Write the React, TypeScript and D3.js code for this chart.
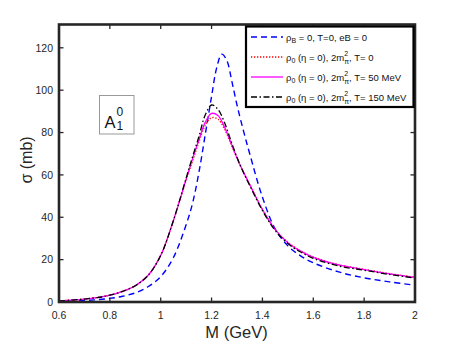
import { useRef, useEffect } from 'react';
import * as d3 from 'd3';

// mass grid (GeV) for the curves at finite density
const massGrid = [0.6, 0.65, 0.7, 0.75, 0.8, 0.85, 0.9, 0.95, 1.0, 1.05, 1.1, 1.125, 1.15, 1.175, 1.2, 1.225, 1.25, 1.275, 1.3, 1.325, 1.35, 1.4, 1.45, 1.5, 1.55, 1.6, 1.7, 1.8, 1.9, 2.0];
const sigmaT0 = [0.5, 0.9, 1.4, 2.1, 3.2, 5, 7.7, 12.5, 22, 38.5, 57.5, 66.5, 75.5, 83.3, 87, 86.3, 81.8, 75, 67.8, 61.3, 55.5, 43.8, 34.4, 28.2, 24.2, 21.3, 17.6, 15.4, 13.4, 11.7];
const sigmaT50 = [0.5, 0.9, 1.4, 2.1, 3.2, 5, 7.7, 12.5, 22, 38.5, 58, 67.5, 76.5, 84.8, 89, 88, 82.8, 75.5, 68, 61.5, 55.5, 43.6, 34.2, 28, 24, 21.1, 17.5, 15.3, 13.3, 11.6];
const sigmaT150 = [0.5, 0.9, 1.4, 2.1, 3.2, 5, 7.7, 12.5, 22, 38.5, 58.5, 68.5, 78, 88.3, 93, 91, 85, 76.5, 68.3, 61.2, 55, 43.2, 33.8, 27.6, 23.6, 20.6, 17, 15, 13, 11.3];

// vacuum curve has its own grid (peak sits higher in mass)
const massVac = [0.6, 0.65, 0.7, 0.75, 0.8, 0.85, 0.9, 0.95, 1.0, 1.05, 1.1, 1.125, 1.15, 1.175, 1.2, 1.22, 1.24, 1.26, 1.28, 1.3, 1.325, 1.35, 1.4, 1.45, 1.5, 1.55, 1.6, 1.7, 1.8, 1.9, 2.0];
const sigmaVac = [0.2, 0.4, 0.7, 1.1, 1.7, 2.7, 4.3, 7.2, 12, 21, 36.5, 46.5, 61, 79, 97, 110.5, 117, 114, 104, 93, 81, 70, 49.5, 34.5, 26.5, 21.8, 18.5, 14.2, 11.4, 9.5, 7.9];

const xTicks = [0.6, 0.8, 1, 1.2, 1.4, 1.6, 1.8, 2];
const yTicks = [0, 20, 40, 60, 80, 100, 120];

const W = 458;
const H = 343;
const axisCol = '#262626';
const fontFam = '"Liberation Sans", Arial, Helvetica, sans-serif';

const App = () => {
  const svgRef = useRef<SVGSVGElement | null>(null);

  useEffect(() => {
    const svg = d3.select(svgRef.current);
    svg.selectAll('*').remove();

    const x = d3.scaleLinear().domain([0.6, 2]).range([59, 415]);
    const y = d3.scaleLinear().domain([0, 131]).range([302, 24.5]);

    svg.append('rect').attr('width', W).attr('height', H).attr('fill', 'white');

    svg.append('clipPath').attr('id', 'plotclip')
      .append('rect')
      .attr('x', x(0.6)).attr('y', y(131))
      .attr('width', x(2) - x(0.6)).attr('height', y(0) - y(131));

    // curves
    const series = [
      { m: massVac, v: sigmaVac, color: '#0000ff', dash: '6,4', w: 1.4 },
      { m: massGrid, v: sigmaT0, color: '#ff0000', dash: '1.3,1.7', w: 1.3 },
      { m: massGrid, v: sigmaT50, color: '#ff00ff', dash: null, w: 1.3 },
      { m: massGrid, v: sigmaT150, color: '#000000', dash: '6,2.5,1.5,2.5', w: 1.3 },
    ];

    const line = d3.line<[number, number]>()
      .x((d) => x(d[0]))
      .y((d) => y(d[1]))
      .curve(d3.curveCatmullRom.alpha(0.5));

    const g = svg.append('g').attr('clip-path', 'url(#plotclip)');
    series.forEach((s) => {
      const pts = s.m.map((mm, i) => [mm, s.v[i]] as [number, number]);
      g.append('path')
        .attr('d', line(pts))
        .attr('fill', 'none')
        .attr('stroke', s.color)
        .attr('stroke-width', s.w)
        .attr('stroke-dasharray', s.dash ?? null);
    });

    // ticks (inward, all four sides)
    const tk = svg.append('g').attr('stroke', axisCol).attr('stroke-width', 1.3);
    xTicks.forEach((t) => {
      tk.append('line').attr('x1', x(t)).attr('x2', x(t)).attr('y1', y(0)).attr('y2', y(0) - 4.5);
      tk.append('line').attr('x1', x(t)).attr('x2', x(t)).attr('y1', y(131)).attr('y2', y(131) + 4.5);
    });
    yTicks.forEach((t) => {
      tk.append('line').attr('x1', x(0.6)).attr('x2', x(0.6) + 4.5).attr('y1', y(t)).attr('y2', y(t));
      tk.append('line').attr('x1', x(2)).attr('x2', x(2) - 4.5).attr('y1', y(t)).attr('y2', y(t));
    });

    // frame
    svg.append('rect')
      .attr('x', x(0.6)).attr('y', y(131))
      .attr('width', x(2) - x(0.6)).attr('height', y(0) - y(131))
      .attr('fill', 'none').attr('stroke', axisCol).attr('stroke-width', 2.6);

    // tick labels
    const lab = svg.append('g').attr('font-family', fontFam).attr('font-size', 10.5).attr('fill', axisCol);
    xTicks.forEach((t) => {
      lab.append('text').attr('x', x(t)).attr('y', 318.5).attr('text-anchor', 'middle').text(d3.format('~g')(t));
    });
    yTicks.forEach((t) => {
      lab.append('text').attr('x', 53).attr('y', y(t) + 3.8).attr('text-anchor', 'end').text(t);
    });

    // axis titles
    svg.append('text')
      .attr('x', 236.5).attr('y', 338)
      .attr('text-anchor', 'middle')
      .attr('font-family', fontFam).attr('font-size', 16.5).attr('fill', axisCol)
      .text('M (GeV)');
    svg.append('text')
      .attr('transform', 'translate(32,160) rotate(-90)')
      .attr('text-anchor', 'middle')
      .attr('font-family', fontFam).attr('font-size', 16).attr('fill', axisCol)
      .text('σ (mb)');

    // annotation box
    svg.append('rect').attr('x', 99.5).attr('y', 95.5).attr('width', 34.5).attr('height', 38.5)
      .attr('fill', 'white').attr('stroke', '#999').attr('stroke-width', 1);
    const ann = svg.append('text').attr('x', 104.5).attr('y', 128)
      .attr('font-family', fontFam).attr('font-size', 16.5).attr('fill', '#111');
    ann.append('tspan').text('A');
    ann.append('tspan').attr('x', 116.5).attr('y', 116).attr('font-size', 12).text('0');
    ann.append('tspan').attr('x', 116.5).attr('y', 130).attr('font-size', 12).text('1');

    // legend
    const lg = svg.append('g');
    lg.append('rect').attr('x', 246).attr('y', 26.5).attr('width', 167.5).attr('height', 80.5)
      .attr('fill', 'white').attr('stroke', '#000').attr('stroke-width', 2.2);
    const rows = [37, 57, 77, 97];
    series.forEach((s, i) => {
      lg.append('line')
        .attr('x1', 251).attr('x2', 283).attr('y1', rows[i]).attr('y2', rows[i])
        .attr('stroke', s.color).attr('stroke-width', s.w)
        .attr('stroke-dasharray', s.dash ?? null);
    });
    const temps = ['0', '50 MeV', '150 MeV'];
    const fs = 9.5;
    const t0 = lg.append('text').attr('x', 286).attr('y', rows[0] + 3.5)
      .attr('font-family', fontFam).attr('font-size', fs).attr('fill', '#111');
    t0.append('tspan').text('ρ');
    t0.append('tspan').attr('font-size', 7).attr('dy', 2.5).text('B');
    t0.append('tspan').attr('dy', -2.5).text(' = 0, T=0, eB = 0');
    temps.forEach((tt, i) => {
      const tx = lg.append('text').attr('x', 286).attr('y', rows[i + 1] + 3.5)
        .attr('font-family', fontFam).attr('font-size', fs).attr('fill', '#111');
      tx.append('tspan').text('ρ');
      tx.append('tspan').attr('font-size', 7).attr('dy', 2.5).text('0');
      tx.append('tspan').attr('dy', -2.5).text(' (η = 0), 2m');
      tx.append('tspan').attr('font-size', 7).attr('dy', -4.5).text('2');
      tx.append('tspan').attr('font-size', 7).attr('dx', -3.9).attr('dy', 7.5).text('π');
      tx.append('tspan').attr('dy', -3).text(', T= ' + tt);
    });
  }, []);

  return (
    <div style={{ position: 'fixed', left: 0, top: 0, width: W, height: H, background: 'white' }}>
      <svg ref={svgRef} width={W} height={H} style={{ display: 'block' }}></svg>
    </div>
  );
};

export default App;
